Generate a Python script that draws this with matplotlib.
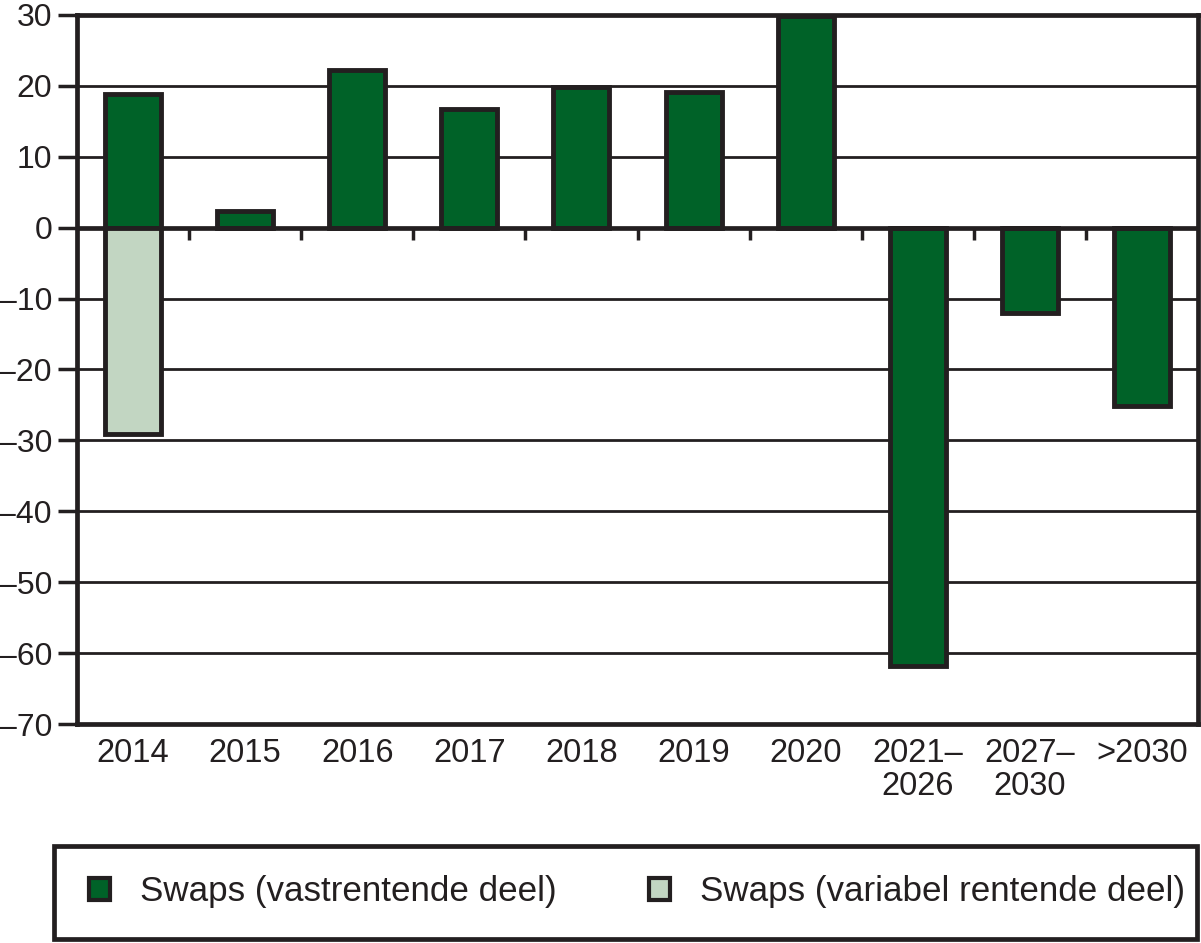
import numpy as np
import matplotlib.pyplot as plt
from matplotlib.patches import Patch, Rectangle
from matplotlib.ticker import FuncFormatter

plt.rcParams['font.family'] = ['Liberation Sans', 'DejaVu Sans']

categories = ['2014', '2015', '2016', '2017', '2018', '2019', '2020',
              '2021–\n2026', '2027–\n2030', '>2030']
vast = [18.8, 2.4, 22.3, 16.7, 19.8, 19.1, 29.8, -61.8, -12.1, -25.1]
variabel = [-29.1, 0, 0, 0, 0, 0, 0, 0, 0, 0]
labels = ['Swaps (vastrentende deel)', 'Swaps (variabel rentende deel)']

dark = '#231f20'
green = '#006228'
light = '#c2d6c2'

W, H = 1201, 943
fig = plt.figure(figsize=(W / 100, H / 100), dpi=100)
ax = fig.add_axes([77 / W, 1 - 724 / H, 1121 / W, 709 / H])

x = np.arange(len(categories))
ax.bar(x, vast, width=0.5, color=green, edgecolor=dark, linewidth=3.5, zorder=3)
ax.bar(x, variabel, width=0.5, color=light, edgecolor=dark, linewidth=3.5, zorder=3)

ax.set_xlim(-0.5, len(categories) - 0.5)
ax.set_ylim(-70, 30)
ax.set_yticks(np.arange(-70, 31, 10))
ax.yaxis.set_major_formatter(FuncFormatter(lambda v, p: f'{v:.0f}'.replace('-', '–')))
for v in np.arange(-60, 30, 10):
    ax.axhline(v, color=dark, linewidth=3.4 if v == 0 else 2, zorder=2)
# small ticks on the zero line between categories
ax.vlines(x[:-1] + 0.5, -1.7, 0, color=dark, linewidth=2.5, zorder=2)

for s in ax.spines.values():
    s.set_linewidth(3.4)
    s.set_color(dark)

ax.set_xticks(x)
ax.set_xticklabels(categories, fontsize=23.5, color=dark, linespacing=1.1)
ax.tick_params(axis='x', length=0, pad=10)
ax.tick_params(axis='y', length=14, width=2.5, color=dark, labelsize=23,
               labelcolor=dark, pad=4)

# legend box
fig.patches.append(Rectangle((54 / W, 4 / H), 1143 / W, 93 / H,
                             transform=fig.transFigure, fill=False,
                             edgecolor=dark, linewidth=3.4))
handles = [Patch(facecolor=green, edgecolor=dark, linewidth=3),
           Patch(facecolor=light, edgecolor=dark, linewidth=3)]
leg = fig.legend(handles, labels, loc='center left', ncol=2,
                 bbox_to_anchor=(89 / W, (H - 892) / H),
                 fontsize=25.2, frameon=False,
                 handlelength=0.6, handleheight=0.6, handletextpad=0.85,
                 columnspacing=2.65, borderaxespad=0, borderpad=0)
for t in leg.get_texts():
    t.set_color(dark)

fig.savefig('out.png', dpi=100)
